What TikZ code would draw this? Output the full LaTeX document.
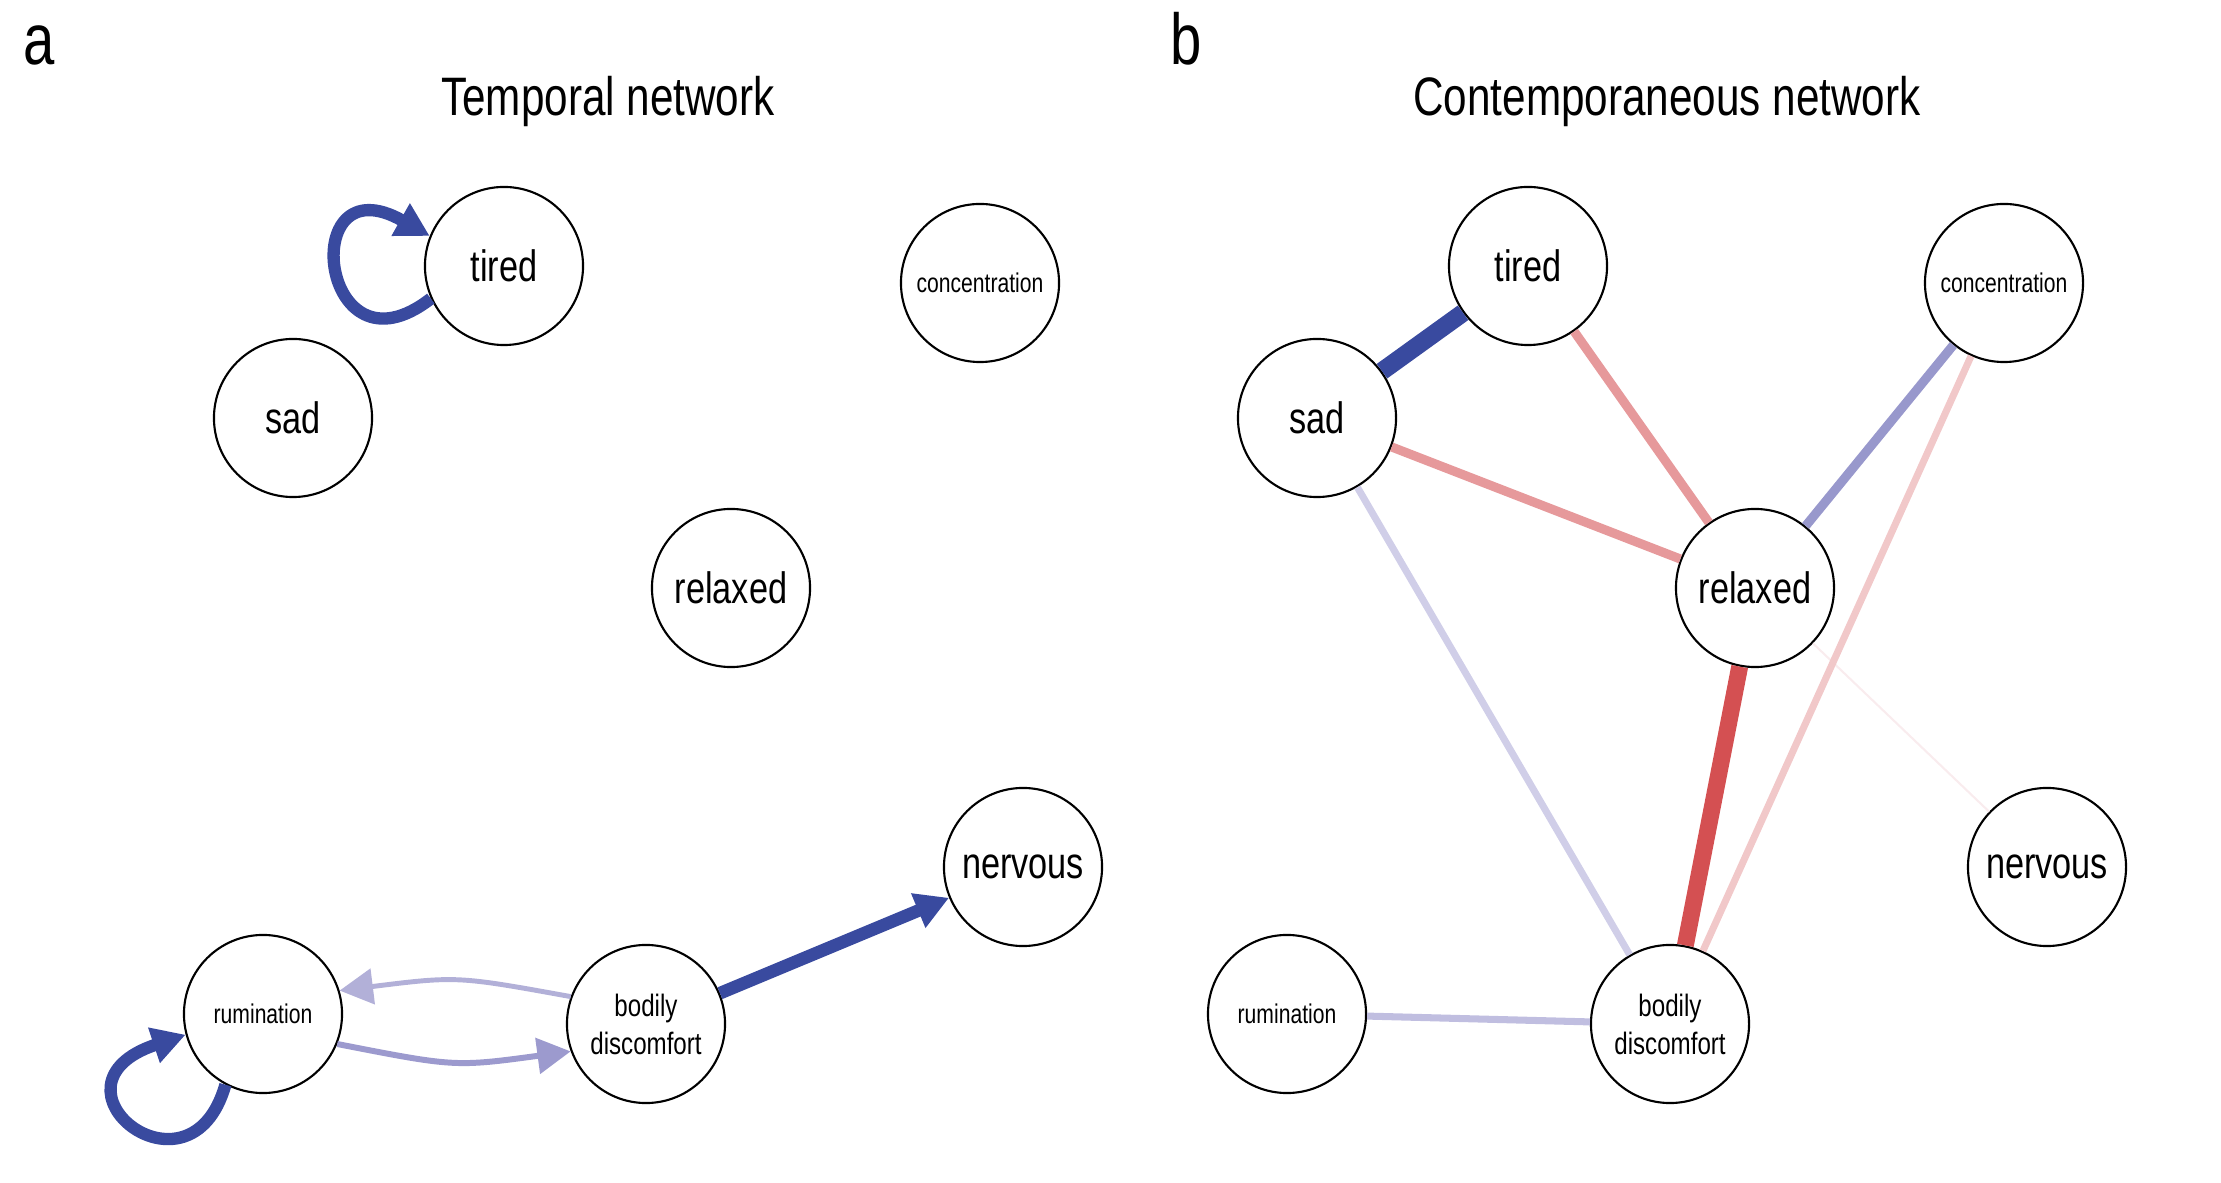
\documentclass[tikz,border=0pt]{standalone}
\usepackage{fontspec}
\setmainfont[FakeStretch=0.78]{Liberation Sans}
\usetikzlibrary{arrows.meta}

\definecolor{posblue}{RGB}{57,74,159}
\definecolor{lightpurple}{RGB}{178,176,216}
\definecolor{midpurple}{RGB}{156,154,206}
\definecolor{negred}{RGB}{212,80,82}
\definecolor{negpink}{RGB}{230,153,155}
\definecolor{palepink}{RGB}{241,200,201}
\definecolor{faintpink}{RGB}{249,236,238}
\definecolor{palelav}{RGB}{208,206,232}
\definecolor{lav}{RGB}{192,190,224}
\definecolor{bluepurple}{RGB}{152,152,204}

\begin{document}
\begin{tikzpicture}[x=0.01cm,y=-0.01cm]
	\useasboundingbox (0,0) rectangle (2221,1183);

	\tikzstyle{var} = [draw,shape=circle,line width=0.6pt,fill=white,minimum size=1.58cm,inner sep=0pt,align=center,font=\fontsize{12.5}{15}\selectfont]
	\tikzstyle{smallvar} = [var,font=\fontsize{7.7}{9}\selectfont]
	\tikzstyle{twoline} = [var,font=\fontsize{8.8}{10.8}\selectfont]
	\tikzstyle{tip} = [-{Triangle[length=9.5pt,width=10pt]}]

	% panel letters and titles
	\node [anchor=base west,inner sep=0pt,font=\fontsize{20.5}{24}\selectfont] (leta) at (23,65) {a};
	\node [anchor=base west,inner sep=0pt,font=\fontsize{20.5}{24}\selectfont] (letb) at (1170,65) {b};
	\node [anchor=base,inner sep=0pt,font=\fontsize{15.4}{18}\selectfont] (titlea) at (608,116) {Temporal network};
	\node [anchor=base,inner sep=0pt,font=\fontsize{15.4}{18}\selectfont] (titleb) at (1667,116) {Contemporaneous network};

	% same layout in both panels
	\foreach \p/\dx in {a/0,b/1024} {
		\node [var] (tired\p) at (504+\dx,266) {tired};
		\node [var] (sad\p) at (293+\dx,418) {sad};
		\node [smallvar] (conc\p) at (980+\dx,283) {concentration};
		\node [var] (relaxed\p) at (731+\dx,588) {relaxed};
		\node [var] (nervous\p) at (1023+\dx,867) {nervous};
		\node [smallvar] (rum\p) at (263+\dx,1014) {rumination};
		\node [twoline] (bd\p) at (646+\dx,1024) {bodily\\discomfort};
	}

	% temporal edges
	\draw[tip,posblue,line width=3.5pt] (tireda.204) .. controls (320,385) and (295,160) .. (tireda.158);
	\draw[tip,posblue,line width=3.5pt] (ruma.242) .. controls (190,1210) and (35,1085) .. (ruma.195);
	\draw[tip,posblue,line width=3.6pt] (bda) -- (nervousa);
	\draw[tip,lightpurple,line width=1.4pt] (bda.160) .. controls (457,976) .. (ruma.17);
	\draw[tip,midpurple,line width=1.7pt] (ruma.338) .. controls (455,1067) .. (bda.200);

	% contemporaneous edges
	\draw[faintpink,line width=0.6pt] (relaxedb) -- (nervousb);
	\draw[palelav,line width=2pt] (sadb) -- (bdb);
	\draw[lav,line width=2pt] (rumb) -- (bdb);
	\draw[palepink,line width=2pt] (concb) -- (bdb);
	\draw[bluepurple,line width=2.6pt] (concb) -- (relaxedb);
	\draw[negpink,line width=2.6pt] (tiredb) -- (relaxedb);
	\draw[negpink,line width=2.6pt] (sadb) -- (relaxedb);
	\draw[negred,line width=4.8pt] (relaxedb) -- (bdb);
	\draw[posblue,line width=5.1pt] (tiredb) -- (sadb);

\end{tikzpicture}
\end{document}
